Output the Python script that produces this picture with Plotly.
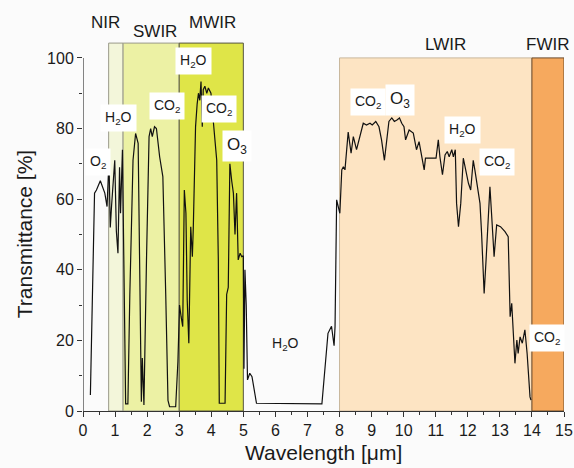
import plotly.graph_objects as go

# Atmospheric transmittance curve
wavelength = [0.23, 0.36, 0.42, 0.54, 0.68, 0.75, 0.81, 0.85, 0.89, 0.94, 0.99, 1.04, 1.09, 1.14, 1.17,
              1.23, 1.27, 1.31, 1.33, 1.40, 1.46, 1.56, 1.64, 1.72, 1.77, 1.82, 1.85, 1.90, 1.98, 2.06,
              2.11, 2.16, 2.23, 2.29, 2.39, 2.49, 2.58, 2.65, 2.70, 2.89, 2.96, 3.01, 3.06, 3.11, 3.16,
              3.21, 3.25, 3.30, 3.36, 3.41, 3.44, 3.51, 3.56, 3.60, 3.64, 3.68, 3.72, 3.75, 3.80, 3.86,
              3.91, 3.99, 4.06, 4.17, 4.22, 4.25, 4.43, 4.48, 4.53, 4.58, 4.64, 4.69, 4.74, 4.79, 4.84,
              4.90, 4.95, 5.00, 5.02, 5.05, 5.09, 5.13, 5.20, 5.27, 5.41, 7.45, 7.64, 7.75, 7.83, 7.86,
              7.91, 8.01, 8.07, 8.12, 8.17, 8.27, 8.36, 8.43, 8.53, 8.64, 8.74, 8.84, 8.95, 9.02, 9.13,
              9.23, 9.31, 9.40, 9.47, 9.54, 9.63, 9.71, 9.79, 9.87, 9.94, 10.01, 10.06, 10.17, 10.30, 10.40,
              10.48, 10.58, 10.64, 10.68, 11.01, 11.08, 11.13, 11.21, 11.29, 11.36, 11.42, 11.50, 11.55, 11.61,
              11.65, 11.71, 11.78, 11.86, 11.94, 12.02, 12.09, 12.17, 12.22, 12.30, 12.38, 12.43, 12.51, 12.57,
              12.64, 12.69, 12.74, 12.82, 12.90, 13.02, 13.16, 13.26, 13.32, 13.37, 13.42, 13.47, 13.53, 13.57,
              13.63, 13.70, 13.78, 13.85, 13.94, 13.97]
transmittance = [4.5, 61.7, 62.6, 65.2, 61.7, 57.9, 71, 52, 58, 65, 71, 51, 44.7, 69, 56,
                 74, 42.8, 16, 2, 2, 33, 71, 78.6, 75.8, 33, 2.6, 15, 1.7, 42.8, 77.7,
                 80, 77.7, 80.5, 80, 72, 66.4, 33, 3, 1.2, 1.2, 14, 30, 26.7, 23.9, 62.6,
                 56, 31.4, 19.2, 52.2, 43.7, 52, 80.5, 87, 90, 88, 93.3, 80.5, 91, 92, 90,
                 91.5, 90, 82.4, 71, 42.8, 2.2, 2.2, 33, 35, 70, 65, 61.7, 50, 61.7, 42.8,
                 44.7, 43.7, 44, 12, 40, 30, 8.8, 10.7, 9.7, 2.2, 2.0, 22, 24, 18.5, 23.9,
                 59.8, 56, 68.3, 69.2, 68.3, 79, 73, 77.7, 74, 78.2, 81.5, 81, 81.5, 81, 82,
                 80.5, 76.8, 71, 76.8, 82, 83, 82, 82.4, 83, 81.5, 80.5, 76.8, 79.6, 78.7, 74,
                 76.3, 71, 68.3, 71.6, 71.6, 76.8, 72, 66.9, 72.5, 73.5, 72, 74, 72, 74,
                 58.8, 52.2, 58.8, 71.6, 68.3, 64.5, 62.6, 71, 68.3, 63.5, 58.8, 50.3, 33.3, 42.8,
                 56, 63.5, 56, 43.7, 52.7, 52.2, 50.8, 49.4, 26.7, 30.5, 22, 13.5, 20.1, 16.3,
                 21, 19.2, 23, 16.3, 4, 3.1]

# Spectral bands
band_names = ["NIR", "SWIR", "MWIR", "LWIR", "FWIR"]
band_start = [0.8, 1.25, 3.0, 8.0, 14.0]
band_end = [1.25, 3.0, 5.0, 14.0, 15.0]
band_top = [104.2, 104.2, 104.2, 100, 100]
band_colors = ["#f3f6da", "#ecf1a4", "#dfe548", "#fde4c3", "#f6a95e"]
band_edge = ["#9a9a8a", "#9a9a8a", "#555544", "#c9b79c", "#6b4a2a"]
band_label_x = [0.69, 2.24, 4.05, 11.32, 14.5]
band_label_y = [110, 107.5, 110, 103.8, 103.8]

# Absorber labels
mol_text = ["O<sub>2</sub>", "H<sub>2</sub>O", "CO<sub>2</sub>", "H<sub>2</sub>O", "CO<sub>2</sub>", "O<sub>3</sub>",
            "H<sub>2</sub>O", "CO<sub>2</sub>", "O<sub>3</sub>", "H<sub>2</sub>O", "CO<sub>2</sub>", "CO<sub>2</sub>"]
mol_x = [0.47, 1.12, 2.62, 3.46, 4.24, 4.80, 6.33, 8.89, 9.88, 11.82, 12.90, 14.46]
mol_y = [70.5, 83.0, 86.4, 99.0, 85.6, 75.0, 19.0, 87.5, 88.0, 79.6, 70.5, 20.7]
mol_size = [14, 14, 14, 14, 14, 17, 14, 14, 17, 14, 14, 14]
mol_boxed = [True, True, True, True, True, True, False, True, True, True, True, True]

fig = go.Figure()

shapes = []
for x0, x1, top, col, edge in zip(band_start, band_end, band_top, band_colors, band_edge):
    shapes.append(dict(type="rect", xref="x", yref="y", x0=x0, x1=x1, y0=0, y1=top,
                       fillcolor=col, line=dict(color=edge, width=1), layer="below"))
# y-axis line only up to 100
shapes.append(dict(type="line", xref="x", yref="y", x0=0, x1=0, y0=0, y1=100,
                   line=dict(color="#333333", width=1.2)))

fig.add_trace(go.Scatter(x=wavelength, y=transmittance, mode="lines",
                         line=dict(color="#111111", width=1.2), showlegend=False,
                         hoverinfo="skip"))

annotations = []
for name, x, y in zip(band_names, band_label_x, band_label_y):
    annotations.append(dict(x=x, y=y, xref="x", yref="y", text=name, showarrow=False,
                            font=dict(family="Liberation Sans, Arial", size=17, color="#1a1a1a")))
for t, x, y, s, boxed in zip(mol_text, mol_x, mol_y, mol_size, mol_boxed):
    annotations.append(dict(x=x, y=y, xref="x", yref="y", text=t, showarrow=False,
                            bgcolor="white" if boxed else "rgba(0,0,0,0)",
                            borderpad=4,
                            font=dict(family="Liberation Sans, Arial", size=s, color="#1a1a1a")))
annotations.append(dict(x=-0.121, y=50, xref="paper", yref="y", text="Transmittance [%]",
                        textangle=-90, showarrow=False, xanchor="center", yanchor="middle",
                        font=dict(family="Liberation Sans, Arial", size=21, color="#1a1a1a")))
annotations.append(dict(x=7.5, y=-0.1, xref="x", yref="paper", text="Wavelength [μm]",
                        showarrow=False, yanchor="middle",
                        font=dict(family="Liberation Sans, Arial", size=21, color="#1a1a1a")))

fig.update_layout(
    width=574, height=468,
    margin=dict(l=83, r=10, t=0, b=57),
    paper_bgcolor="#fbfbfb", plot_bgcolor="#fbfbfb",
    shapes=shapes, annotations=annotations,
    xaxis=dict(range=[0, 15], tickvals=list(range(0, 16)), showgrid=False, zeroline=False,
               showline=True, linecolor="#333333", linewidth=1.2,
               ticks="outside", ticklen=5, tickcolor="#333333",
               minor=dict(tickvals=[i + 0.5 for i in range(15)], ticks="outside", ticklen=3,
                          tickcolor="#333333"),
               tickfont=dict(family="Liberation Sans, Arial", size=16, color="#1a1a1a")),
    yaxis=dict(range=[0, 116.4], tickvals=[0, 20, 40, 60, 80, 100], showgrid=False, zeroline=False,
               showline=False, ticks="outside", ticklen=5, tickcolor="#333333",
               minor=dict(tickvals=[10, 30, 50, 70, 90], ticks="outside", ticklen=3,
                          tickcolor="#333333"),
               tickfont=dict(family="Liberation Sans, Arial", size=16, color="#1a1a1a")),
)

fig.write_html("out.html")
